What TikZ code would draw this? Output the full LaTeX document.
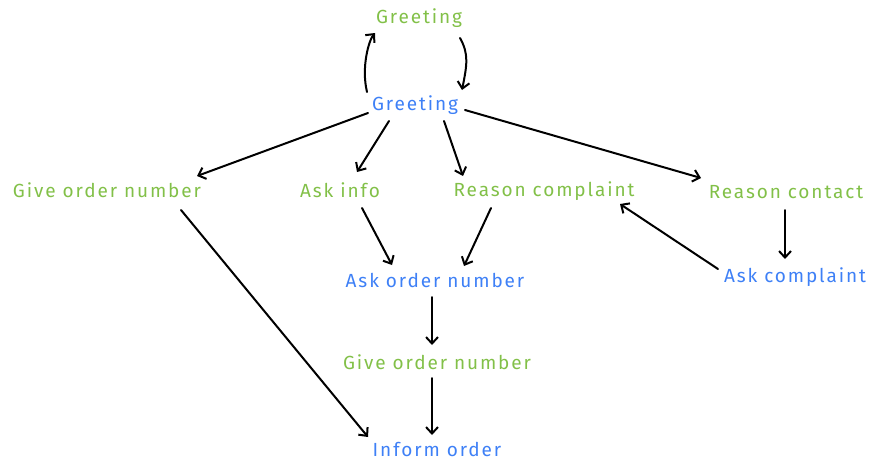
\documentclass[tikz,border=0pt]{standalone}
\usepackage{fontspec}
\setmainfont[LetterSpace=10]{Fira Sans}
\usetikzlibrary{arrows.meta,calc}
\definecolor{stgreen}{RGB}{130,192,72}
\definecolor{stblue}{RGB}{62,128,246}
\tikzset{
  state/.style={inner sep=2pt, font=\fontsize{19}{22}\selectfont},
  said/.style={state, text=stgreen},
  asked/.style={state, text=stblue},
  flow/.style={line width=2pt, line cap=round, -{Straight Barb[length=6.5pt,width=12pt,line width=2pt]}}
}
\begin{document}
\begin{tikzpicture}[x=1pt,y=-1pt]
\useasboundingbox (0,0) rectangle (874,463);
% dialogue states
\node[said]  (greet1) at (419,18)  {Greeting};
\node[asked] (greet2) at (415,105) {Greeting};
\node[said]  (give1)  at (107,190) {Give order number};
\node[said]  (info)   at (340,190) {Ask info};
\node[said]  (reason) at (544,191) {Reason complaint};
\node[said]  (contact) at (786,192) {Reason contact};
\node[asked] (asknum) at (435,280) {Ask order number};
\node[asked] (askcomp) at (795,277) {Ask complaint};
\node[said]  (give2)  at (437,362) {Give order number};
\node[asked] (inform) at (437,449) {Inform order};
% transitions
\draw[flow] ($(greet2)+(-48,-13)$) .. controls ($(greet2)+(-54,-38)$) and ($(greet1)+(-50,22)$) .. ($(greet1)+(-44,15)$);
\draw[flow] ($(greet1)+(41,20)$) .. controls ($(greet1)+(50,36)$) and ($(greet2)+(52,-40)$) .. ($(greet2)+(47,-15)$);
\draw[flow] ($(greet2)+(-47,8)$) -- ($(give1)+(90,-14)$);
\draw[flow] ($(greet2)+(-26,16)$) -- ($(info)+(17,-18)$);
\draw[flow] ($(greet2)+(29,16)$) -- ($(reason)+(-81,-15)$);
\draw[flow] ($(greet2)+(50,5)$) -- ($(contact)+(-85,-14)$);
\draw[flow] ($(give1)+(74,20)$) -- ($(inform)+(-69,-12)$);
\draw[flow] ($(info)+(22,18)$) -- ($(asknum)+(-43,-15)$);
\draw[flow] ($(reason)+(-53,17)$) -- ($(asknum)+(29,-14)$);
\draw[flow] ($(contact)+(-1,18)$) -- ($(askcomp)+(-10,-18)$);
\draw[flow] ($(askcomp)+(-77,-8)$) -- ($(reason)+(76,13)$);
\draw[flow] ($(asknum)+(-3,17)$) -- ($(give2)+(-5,-17)$);
\draw[flow] ($(give2)+(-5,16)$) -- ($(inform)+(-5,-14)$);
\end{tikzpicture}
\end{document}
